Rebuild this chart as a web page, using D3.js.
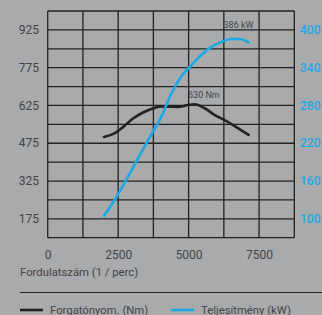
<!DOCTYPE html>
<html>
<head>
<meta charset="utf-8">
<script src="https://cdn.jsdelivr.net/npm/d3@7"></script>
<style>
  body { margin: 0; background: #a9aaac; }
  svg { display: block; font-family: Roboto, "Liberation Sans", sans-serif; }
  .grid line { stroke: #222; stroke-width: 1.3; }
  .tick-left { fill: #444; font-size: 12px; }
  .tick-right { fill: #1aa9e6; font-size: 12px; font-weight: 500; }
  .tick-x { fill: #444; font-size: 12px; }
  .note { fill: #444; font-size: 9px; }
  .label { fill: #444; font-size: 11.3px; }
</style>
</head>
<body>
<div class="chart"></div>
<script>
// rpm / torque (Nm)
var torqueRpm = [2000, 2330, 2690, 3040, 3400, 3750, 4030, 4300, 4620, 4980, 5210, 5570, 5930, 6280, 6760, 7130];
var torqueNm  = [500, 512, 541, 574, 598, 614, 621, 620, 619, 627, 630, 614, 587, 567, 534, 508];

// rpm / power (kW)
var powerRpm = [2000, 2250, 2510, 3170, 3600, 4030, 4390, 4740, 5100, 5450, 5810, 6160, 6520, 6810, 7130];
var powerKw  = [105, 121, 140, 193, 228, 262, 299, 326, 344, 360, 373, 381, 385.5, 385.5, 380];

var xTicks = [0, 2500, 5000, 7500];
var leftTicks = [175, 325, 475, 625, 775, 925];
var rightTicks = [100, 160, 220, 280, 340, 400];

var margin = {top: 11, left: 47.7, right: 27.7, bottom: 77.3};
var W = 322, H = 315;
var width = W - margin.left - margin.right;
var height = H - margin.top - margin.bottom;

var svg = d3.select('.chart').append('svg')
  .attr('width', W)
  .attr('height', H);

var x = d3.scaleLinear().domain([0, 8750]).range([margin.left, margin.left + width]);
var yL = d3.scaleLinear().domain([100, 1000]).range([margin.top + height, margin.top]);
var yR = d3.scaleLinear().domain([70, 430]).range([margin.top + height, margin.top]);

/*
 * grid
 */
var grid = svg.append('g').attr('class', 'grid');
grid.selectAll('.v')
  .data(d3.range(0, 8751, 1250))
  .enter().append('line')
  .attr('x1', d => x(d)).attr('x2', d => x(d))
  .attr('y1', margin.top).attr('y2', margin.top + height);
grid.selectAll('.h')
  .data(d3.range(100, 1001, 75))
  .enter().append('line')
  .attr('x1', margin.left).attr('x2', margin.left + width)
  .attr('y1', d => yL(d)).attr('y2', d => yL(d));

/*
 * axes labels
 */
var xAxis = d3.axisBottom(x).tickValues(xTicks).tickFormat(d3.format('d')).tickSize(0).tickPadding(0);
var gX = svg.append('g')
  .attr('transform', `translate(0, ${margin.top + height + 13})`)
  .call(xAxis);
gX.select('.domain').remove();
gX.selectAll('text').attr('class', 'tick-x').attr('fill', null).attr('dy', '0.71em');
gX.attr('font-size', null).attr('font-family', null);

svg.append('g').selectAll('text')
  .data(leftTicks)
  .enter().append('text')
  .attr('class', 'tick-left')
  .attr('x', 39)
  .attr('y', d => yL(d))
  .attr('dy', '0.35em')
  .attr('text-anchor', 'end')
  .text(d => d);

svg.append('g').selectAll('text')
  .data(rightTicks)
  .enter().append('text')
  .attr('class', 'tick-right')
  .attr('x', 300)
  .attr('y', d => yR(d))
  .attr('dy', '0.35em')
  .text(d => d);

/*
 * curves
 */
var torqueData = torqueRpm.map((r, i) => ({rpm: r, v: torqueNm[i]}));
var powerData = powerRpm.map((r, i) => ({rpm: r, v: powerKw[i]}));

svg.append('path')
  .datum(torqueData)
  .attr('fill', 'none')
  .attr('stroke', '#222')
  .attr('stroke-width', 2.6)
  .attr('stroke-linecap', 'round')
  .attr('d', d3.line().curve(d3.curveMonotoneX).x(d => x(d.rpm)).y(d => yL(d.v)));

svg.append('path')
  .datum(powerData)
  .attr('fill', 'none')
  .attr('stroke', '#1aa9e6')
  .attr('stroke-width', 2.6)
  .attr('stroke-linecap', 'round')
  .attr('d', d3.line().curve(d3.curveMonotoneX).x(d => x(d.rpm)).y(d => yR(d.v)));

svg.append('text').attr('class', 'note')
  .attr('x', x(4980)).attr('y', yL(630) - 6)
  .text('630 Nm');
svg.append('text').attr('class', 'note')
  .attr('x', x(6240)).attr('y', 27.5)
  .text('386 kW');

/*
 * footer
 */
svg.append('text').attr('class', 'label')
  .attr('x', 20).attr('y', 276)
  .text('Fordulatszám (1 / perc)');

svg.append('line')
  .attr('x1', 20).attr('x2', W)
  .attr('y1', 292.5).attr('y2', 292.5)
  .attr('stroke', '#222').attr('stroke-width', 1.2);

function legendEntry(x0, color, title) {
  var g = svg.append('g');
  g.append('line')
    .attr('x1', x0).attr('x2', x0 + 23)
    .attr('y1', 310).attr('y2', 310)
    .attr('stroke', color).attr('stroke-width', 2.6);
  g.append('text').attr('class', 'label')
    .attr('x', x0 + 30).attr('y', 313.5)
    .text(title);
}
legendEntry(20, '#222', 'Forgatónyom. (Nm)');
legendEntry(171, '#1aa9e6', 'Teljesítmény (kW)');
</script>
</body>
</html>
